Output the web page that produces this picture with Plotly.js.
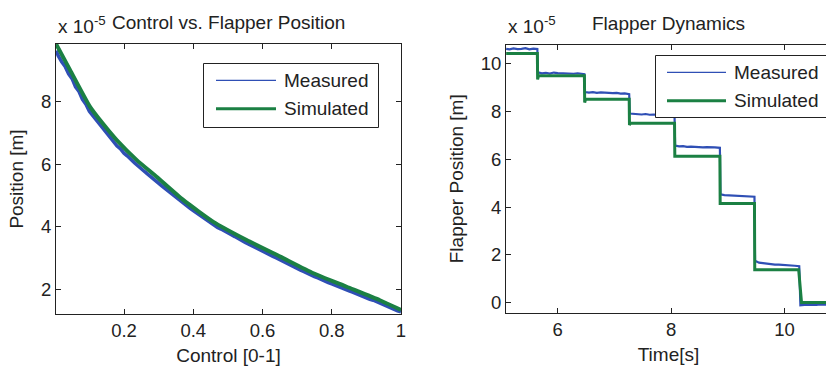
<!DOCTYPE html>
<html>
<head>
<meta charset="utf-8">
<script src="https://cdn.plot.ly/plotly-3.0.1.min.js"></script>
<style>
html,body{margin:0;padding:0;overflow:hidden;background:#fff;}
#chart{width:832px;height:367px;}
</style>
</head>
<body>
<div id="chart"></div>
<script>
// ---- Data (positions in units of 1e-5 m) ----
const ctrlMeas = [0.004,0.01,0.02,0.03,0.04,0.05,0.06,0.07,0.08,0.09,0.10,0.11,0.12,0.13,0.14,0.15,0.16,0.17,0.18,0.19,0.20,0.21,0.22,0.23,0.24,0.25,0.26,0.27,0.28,0.29,0.30,0.31,0.32,0.33,0.34,0.35,0.36,0.37,0.38,0.39,0.40,0.41,0.42,0.43,0.44,0.45,0.46,0.47,0.48,0.49,0.50,0.51,0.52,0.53,0.54,0.55,0.56,0.57,0.58,0.59,0.60,0.61,0.62,0.63,0.64,0.65,0.66,0.67,0.68,0.69,0.70,0.71,0.72,0.73,0.74,0.75,0.76,0.77,0.78,0.79,0.80,0.81,0.82,0.83,0.84,0.85,0.86,0.87,0.88,0.89,0.90,0.91,0.92,0.93,0.94,0.95,0.96,0.97,0.98,0.99,1.00];
const posMeas = [9.62,9.46,9.27,9.12,8.88,8.73,8.47,8.32,8.07,7.91,7.69,7.55,7.38,7.27,7.10,6.99,6.83,6.72,6.58,6.49,6.35,6.26,6.14,6.05,5.95,5.84,5.76,5.67,5.57,5.47,5.39,5.30,5.21,5.12,5.03,4.93,4.85,4.76,4.68,4.60,4.52,4.44,4.36,4.29,4.20,4.13,4.05,3.98,3.93,3.86,3.81,3.75,3.69,3.62,3.56,3.50,3.45,3.39,3.34,3.28,3.23,3.17,3.12,3.06,3.01,2.95,2.90,2.84,2.79,2.73,2.68,2.62,2.57,2.51,2.46,2.41,2.37,2.31,2.27,2.22,2.18,2.13,2.09,2.04,2.01,1.96,1.92,1.87,1.83,1.78,1.74,1.69,1.66,1.61,1.57,1.52,1.47,1.42,1.38,1.32,1.29];
const ctrlSim = [0.004,0.044,0.102,0.14,0.179,0.237,0.294,0.371,0.458,0.554,0.651,0.747,0.843,0.939,1.0];
const posSim  = [9.83,9.01,7.83,7.28,6.77,6.13,5.60,4.86,4.16,3.58,3.05,2.52,2.09,1.66,1.35];

const timeMeas = [5.09,5.15,5.22,5.29,5.36,5.43,5.50,5.57,5.64,
  5.65,5.72,5.79,5.86,5.93,6.00,6.07,6.14,6.21,6.28,6.35,6.42,6.47,
  6.48,6.55,6.62,6.69,6.76,6.83,6.90,6.97,7.04,7.11,7.18,7.26,
  7.27,7.34,7.41,7.48,7.55,7.62,7.69,7.76,7.83,7.90,7.97,8.06,
  8.07,8.14,8.21,8.28,8.35,8.42,8.49,8.56,8.63,8.70,8.77,8.86,
  8.87,8.94,9.01,9.08,9.15,9.22,9.29,9.36,9.47,
  9.48,9.55,9.62,9.69,9.76,9.83,9.90,9.97,10.04,10.11,10.18,10.26,
  10.28,10.35,10.42,10.49,10.56,10.63,10.70,10.77,10.84];
const flapMeas = [10.60,10.58,10.62,10.59,10.60,10.63,10.58,10.61,10.59,
  9.62,9.58,9.60,9.57,9.61,9.59,9.58,9.60,9.57,9.56,9.58,9.55,9.54,
  8.80,8.77,8.79,8.76,8.78,8.76,8.77,8.75,8.76,8.73,8.74,8.71,
  7.90,7.88,7.87,7.86,7.88,7.85,7.86,7.84,7.85,7.83,7.84,7.82,
  6.56,6.53,6.54,6.51,6.52,6.50,6.51,6.49,6.50,6.48,6.49,6.47,
  4.53,4.50,4.49,4.47,4.48,4.45,4.46,4.44,4.43,
  1.76,1.68,1.66,1.63,1.62,1.60,1.60,1.58,1.57,1.56,1.55,1.53,
  -0.10,-0.08,-0.09,-0.07,-0.08,-0.06,-0.08,-0.07,-0.08];
const timeSim = [5.09,5.64,5.645,5.66,5.70,6.47,6.475,6.49,6.53,7.26,7.265,7.28,7.32,8.06,8.065,8.86,8.865,9.47,9.475,10.25,10.30,10.84];
const flapSim = [10.4,10.4,9.32,9.48,9.48,9.48,8.36,8.5,8.5,8.5,7.42,7.5,7.5,7.5,6.12,6.12,4.15,4.15,1.38,1.38,0.02,0.02];

const seriesNames = ['Measured','Simulated'];
const xTicksL = [0.2,0.4,0.6,0.8,1];
const xTickTextL = ['0.2','0.4','0.6','0.8','1'];
const yTicksL = [2,4,6,8];
const xTicksR = [6,8,10];
const yTicksR = [0,2,4,6,8,10];

// ---- Layout helpers (pixel -> paper) ----
const W = 832, H = 367;
const X = p => p / W;
const Y = p => 1 - p / H;
const FONT = 'Liberation Sans, Arial, Helvetica, sans-serif';
const INK = '#222222';
const BLUE = '#2f4fb5';
const GREEN = '#1b8043';

function axisStyle(extra) {
  return Object.assign({
    showline: true, linecolor: INK, linewidth: 1, mirror: 'ticks',
    ticks: 'inside', ticklen: 5, tickcolor: INK, tickwidth: 1,
    showgrid: false, zeroline: false,
    tickfont: {family: FONT, size: 18.5, color: INK}
  }, extra);
}

const traces = [
  {x: ctrlMeas, y: posMeas, xaxis: 'x', yaxis: 'y', mode: 'lines', name: seriesNames[0],
   line: {color: BLUE, width: 3.5}},
  {x: ctrlSim, y: posSim, xaxis: 'x', yaxis: 'y', mode: 'lines', name: seriesNames[1],
   line: {color: GREEN, width: 4, shape: 'spline', smoothing: 0.5}},
  {x: timeMeas, y: flapMeas, xaxis: 'x2', yaxis: 'y2', mode: 'lines', name: seriesNames[0],
   line: {color: BLUE, width: 2.2}},
  {x: timeSim, y: flapSim, xaxis: 'x2', yaxis: 'y2', mode: 'lines', name: seriesNames[1],
   line: {color: GREEN, width: 3}}
];

function legendShapes(x0, x1, y0, y1, sx0, sx1, yb, yg) {
  return [
    {type: 'rect', xref: 'paper', yref: 'paper', x0: X(x0), x1: X(x1), y0: Y(y1), y1: Y(y0),
     line: {color: INK, width: 1}, fillcolor: '#ffffff', layer: 'above'},
    {type: 'line', xref: 'paper', yref: 'paper', x0: X(sx0), x1: X(sx1), y0: Y(yb), y1: Y(yb),
     line: {color: BLUE, width: 1.3}, layer: 'above'},
    {type: 'line', xref: 'paper', yref: 'paper', x0: X(sx0), x1: X(sx1), y0: Y(yg), y1: Y(yg),
     line: {color: GREEN, width: 3}, layer: 'above'}
  ];
}
function txt(text, px, py, xa, size) {
  return {text: text, x: X(px), y: Y(py), xref: 'paper', yref: 'paper', showarrow: false,
          xanchor: xa, yanchor: 'middle', font: {family: FONT, size: size || 19, color: INK}};
}

const layout = {
  width: W, height: H,
  margin: {l: 0, r: 0, t: 0, b: 0},
  paper_bgcolor: '#ffffff', plot_bgcolor: '#ffffff',
  showlegend: false,
  font: {family: FONT, color: INK},
  xaxis: axisStyle({domain: [X(56), X(401)], range: [0.0036, 1.0], anchor: 'y',
    tickvals: xTicksL, ticktext: xTickTextL,
    title: {text: 'Control [0-1]', font: {family: FONT, size: 19, color: INK}, standoff: 8}}),
  yaxis: axisStyle({domain: [Y(314), Y(44)], range: [1.22, 9.835], anchor: 'x',
    tickvals: yTicksL,
    title: {text: 'Position [m]', font: {family: FONT, size: 19, color: INK}, standoff: 12}}),
  xaxis2: axisStyle({domain: [X(506), X(831)], range: [5.087, 10.82], anchor: 'y2',
    tickvals: xTicksR,
    title: {text: 'Time[s]', font: {family: FONT, size: 19, color: INK}, standoff: 8}}),
  yaxis2: axisStyle({domain: [Y(313), Y(44.5)], range: [-0.42, 10.78], anchor: 'x2',
    tickvals: yTicksR,
    title: {text: 'Flapper Position [m]', font: {family: FONT, size: 19, color: INK}, standoff: 12}}),
  shapes: [].concat(
    legendShapes(203.5, 378.5, 63.5, 127.5, 216, 276, 80.3, 108.7),
    legendShapes(655.5, 845, 55.5, 117.5, 667, 726, 72.3, 100.7)
  ),
  annotations: [
    txt('Control vs. Flapper Position', 228.5, 22, 'center'),
    txt('x 10<sup>-5</sup>', 56, 25, 'left'),
    txt('Flapper Dynamics', 668.5, 23.5, 'center'),
    txt('x 10<sup>-5</sup>', 506, 25, 'left'),
    txt(seriesNames[0], 282, 80.5, 'left'),
    txt(seriesNames[1], 282, 108.5, 'left'),
    txt(seriesNames[0], 731.5, 72.5, 'left'),
    txt(seriesNames[1], 731.5, 100.5, 'left')
  ]
};

Plotly.newPlot('chart', traces, layout, {displayModeBar: false, staticPlot: true});
</script>
</body>
</html>
